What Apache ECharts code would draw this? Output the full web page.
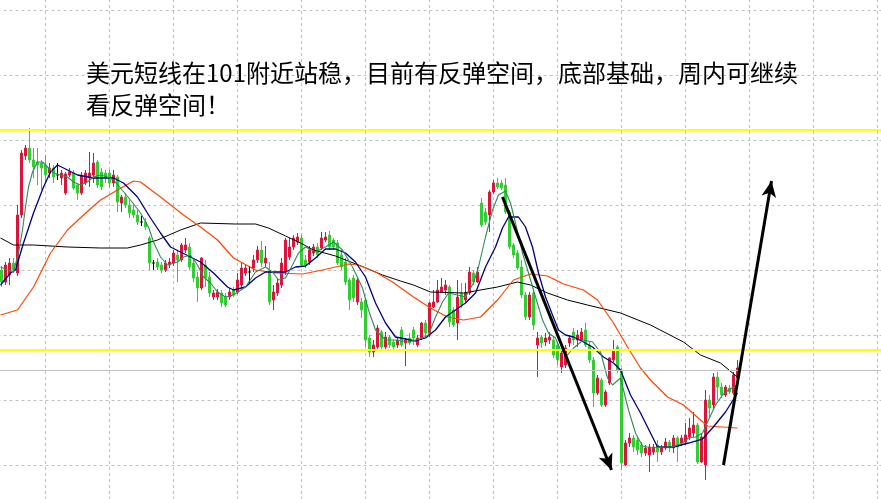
<!DOCTYPE html>
<html><head><meta charset="utf-8">
<script src="https://cdn.jsdelivr.net/npm/echarts@6/dist/echarts.min.js"></script>
<style>html,body{margin:0;padding:0;background:#fff}#c{width:881px;height:499px}</style>
</head><body><div id="c"></div>
<script>
// OHLC bars: [open, close, low, high]
const candles = [
[101.400,101.376,101.366,101.408],[101.376,101.410,101.370,101.416],[101.390,101.414,101.370,101.424],[101.414,101.400,101.394,101.424],
[101.394,101.510,101.388,101.530],[101.510,101.634,101.504,101.640],[101.628,101.644,101.620,101.650],[101.644,101.620,101.614,101.684],
[101.620,101.606,101.584,101.644],[101.616,101.610,101.570,101.644],[101.614,101.604,101.560,101.620],[101.610,101.590,101.576,101.630],
[101.594,101.604,101.584,101.614],[101.604,101.586,101.574,101.610],[101.590,101.590,101.580,101.614],[101.584,101.594,101.570,101.600],
[101.554,101.592,101.550,101.596],[101.590,101.596,101.586,101.604],[101.594,101.564,101.560,101.600],[101.570,101.554,101.540,101.574],
[101.554,101.590,101.550,101.596],[101.574,101.594,101.570,101.600],[101.584,101.594,101.566,101.636],[101.590,101.614,101.574,101.634],
[101.616,101.570,101.564,101.620],[101.596,101.566,101.560,101.604],[101.594,101.584,101.574,101.600],[101.594,101.574,101.564,101.600],
[101.574,101.590,101.566,101.600],[101.586,101.536,101.516,101.590],[101.534,101.546,101.516,101.550],[101.546,101.530,101.524,101.554],
[101.530,101.514,101.504,101.540],[101.520,101.510,101.504,101.530],[101.510,101.496,101.490,101.520],[101.496,101.496,101.488,101.508],
[101.496,101.486,101.480,101.504],[101.464,101.414,101.400,101.468],[101.414,101.414,101.400,101.420],[101.416,101.406,101.400,101.424],
[101.410,101.400,101.394,101.416],[101.400,101.414,101.396,101.420],[101.410,101.416,101.404,101.424],[101.414,101.434,101.408,101.440],
[101.430,101.420,101.376,101.440],[101.420,101.450,101.416,101.454],[101.440,101.450,101.434,101.464],[101.446,101.406,101.400,101.454],
[101.414,101.384,101.376,101.420],[101.386,101.364,101.336,101.396],[101.364,101.424,101.360,101.426],[101.410,101.384,101.366,101.420],
[101.386,101.354,101.346,101.396],[101.346,101.354,101.340,101.360],[101.346,101.356,101.340,101.362],[101.354,101.334,101.326,101.360],
[101.346,101.330,101.326,101.354],[101.346,101.356,101.340,101.364],[101.360,101.350,101.346,101.366],[101.356,101.380,101.352,101.394],
[101.370,101.404,101.364,101.416],[101.394,101.404,101.388,101.410],[101.396,101.396,101.374,101.408],[101.404,101.420,101.396,101.430],
[101.420,101.440,101.414,101.448],[101.440,101.414,101.406,101.458],[101.414,101.424,101.406,101.448],[101.396,101.336,101.330,101.416],
[101.340,101.356,101.320,101.370],[101.354,101.374,101.348,101.384],[101.370,101.414,101.364,101.424],[101.396,101.460,101.390,101.464],
[101.426,101.446,101.420,101.464],[101.446,101.464,101.440,101.470],[101.456,101.466,101.450,101.474],[101.464,101.410,101.406,101.470],
[101.420,101.410,101.404,101.430],[101.416,101.440,101.410,101.448],[101.434,101.446,101.428,101.452],[101.446,101.430,101.424,101.454],
[101.444,101.464,101.440,101.476],[101.460,101.466,101.456,101.476],[101.470,101.446,101.440,101.478],[101.460,101.446,101.440,101.464],
[101.454,101.414,101.410,101.460],[101.430,101.406,101.400,101.440],[101.416,101.376,101.370,101.424],[101.380,101.340,101.320,101.384],
[101.384,101.344,101.336,101.390],[101.336,101.380,101.330,101.386],[101.336,101.320,101.304,101.344],[101.340,101.260,101.246,101.344],
[101.264,101.236,101.226,101.270],[101.236,101.250,101.226,101.260],[101.246,101.284,101.240,101.290],[101.276,101.246,101.240,101.280],
[101.246,101.266,101.240,101.276],[101.266,101.250,101.244,101.270],[101.256,101.246,101.240,101.260],[101.250,101.260,101.244,101.264],
[101.280,101.250,101.246,101.286],[101.254,101.260,101.208,101.264],[101.264,101.254,101.250,101.274],[101.280,101.264,101.250,101.286],
[101.250,101.264,101.246,101.270],[101.264,101.294,101.260,101.296],[101.294,101.274,101.266,101.300],[101.274,101.334,101.266,101.336],
[101.326,101.336,101.324,101.360],[101.336,101.360,101.334,101.380],[101.356,101.366,101.354,101.384],[101.360,101.370,101.350,101.380],
[101.366,101.296,101.286,101.370],[101.320,101.290,101.286,101.326],[101.294,101.346,101.260,101.380],[101.354,101.330,101.324,101.374],
[101.340,101.354,101.334,101.374],[101.354,101.396,101.350,101.406],[101.394,101.376,101.370,101.400],[101.376,101.396,101.374,101.406],
[101.534,101.490,101.486,101.544],[101.516,101.496,101.490,101.524],[101.510,101.556,101.476,101.560],[101.556,101.574,101.552,101.580],
[101.574,101.566,101.562,101.584],[101.574,101.564,101.560,101.580],[101.570,101.516,101.512,101.584],[101.516,101.446,101.442,101.520],
[101.450,101.430,101.424,101.454],[101.434,101.404,101.400,101.440],[101.406,101.350,101.344,101.420],[101.350,101.306,101.300,101.356],
[101.306,101.350,101.300,101.356],[101.354,101.290,101.280,101.360],[101.250,101.264,101.186,101.276],[101.266,101.254,101.244,101.270],
[101.256,101.264,101.248,101.274],[101.260,101.266,101.252,101.276],[101.260,101.230,101.224,101.268],[101.250,101.220,101.210,101.256],
[101.206,101.234,101.194,101.240],[101.210,101.244,101.204,101.250],[101.254,101.264,101.246,101.270],[101.276,101.260,101.250,101.284],
[101.260,101.270,101.246,101.280],[101.260,101.276,101.256,101.284],[101.280,101.250,101.246,101.294],[101.250,101.220,101.214,101.256],
[101.220,101.154,101.126,101.226],[101.154,101.184,101.150,101.190],[101.180,101.130,101.126,101.184],[101.130,101.156,101.126,101.160],
[101.174,101.224,101.170,101.226],[101.220,101.240,101.216,101.260],[101.246,101.200,101.194,101.250],[101.200,101.014,101.000,101.204],
[101.010,101.054,101.008,101.060],[101.054,101.064,101.046,101.074],[101.064,101.046,101.036,101.070],[101.060,101.040,101.030,101.066],
[101.050,101.034,101.026,101.056],[101.034,101.044,101.028,101.050],[101.030,101.046,100.996,101.052],[101.036,101.046,101.030,101.052],
[101.050,101.036,101.016,101.060],[101.036,101.044,101.030,101.050],[101.044,101.056,101.040,101.064],[101.056,101.044,101.036,101.060],
[101.044,101.064,101.034,101.070],[101.064,101.046,101.016,101.068],[101.054,101.064,101.048,101.070],[101.056,101.070,101.050,101.094],
[101.066,101.084,101.060,101.104],[101.074,101.090,101.066,101.116],[101.090,101.016,101.012,101.094],[101.016,101.066,101.014,101.074],
[101.010,101.140,100.980,101.160],[101.140,101.124,101.104,101.150],[101.130,101.186,101.120,101.194],[101.186,101.166,101.140,101.196],
[101.166,101.150,101.144,101.174],[101.150,101.166,101.146,101.170],[101.164,101.156,101.152,101.170],[101.154,101.190,101.150,101.196],
[101.184,101.204,101.180,101.220]
];

// moving averages: [bar index, price]
const maFast = [
[-0.25,101.406],[1.5,101.400],[3,101.396],[4.25,101.434],[5.25,101.480],[6,101.526],[6.75,101.566],[7.75,101.596],[9,101.616],[10.25,101.616],
[11.5,101.606],[13,101.594],[14.75,101.590],[16.5,101.586],[18,101.576],[19.75,101.570],[21.5,101.576],[23,101.586],[24.75,101.590],[26.5,101.586],
[28,101.580],[29.75,101.564],[32.25,101.540],[34.75,101.514],[36.75,101.486],[38,101.456],[39.75,101.426],[41.5,101.410],[44,101.416],[45.5,101.426],
[47.25,101.430],[49,101.410],[50.5,101.386],[52.25,101.374],[54,101.356],[56,101.346],[58,101.350],[61,101.366],[63.5,101.396],[66,101.406],
[67.75,101.396],[69.25,101.380],[71,101.384],[72.75,101.410],[74.25,101.434],[76,101.446],[78.5,101.436],[81,101.446],[83,101.456],[85.25,101.440],
[87.75,101.406],[90.25,101.364],[91.75,101.320],[93.5,101.280],[96,101.260],[98.5,101.260],[101.75,101.256],[105.25,101.264],[106.75,101.270],[108.5,101.306],
[110.25,101.336],[111.75,101.354],[114,101.350],[116,101.346],[118,101.374],[119.25,101.406],[121,101.466],[122.75,101.520],[124.25,101.550],[126,101.558],
[127.25,101.534],[128.5,101.494],[130.25,101.434],[131.75,101.394],[133.5,101.346],[135.25,101.300],[136.75,101.274],[138.5,101.264],[139.75,101.240],[141.5,101.230],
[143,101.244],[145.5,101.260],[147.75,101.256],[149.75,101.236],[151.5,101.184],[152.75,101.170],[154.75,101.184],[156.75,101.120],[158.5,101.074],[160.25,101.048],
[162.75,101.044],[165.25,101.046],[167.75,101.046],[170.25,101.054],[171.75,101.064],[173.5,101.066],[175.25,101.074],[176.75,101.100],[178.5,101.130],[180.25,101.150],
[181.75,101.160],[184,101.170]
];
const maMid = [
[-0.25,101.370],[2.25,101.394],[3.5,101.400],[5.5,101.454],[8,101.514],[10.5,101.566],[12.25,101.596],[14,101.610],[16.5,101.600],[19,101.590],
[23,101.584],[28,101.584],[30.5,101.574],[34,101.546],[37.25,101.504],[39.75,101.474],[42.25,101.446],[44.75,101.436],[49.75,101.416],[53,101.394],
[56.5,101.366],[58,101.360],[61,101.366],[63.5,101.384],[66,101.396],[71,101.396],[73.5,101.406],[76,101.408],[78.5,101.424],[81,101.442],
[83.5,101.442],[86,101.434],[88.5,101.416],[91,101.386],[93.5,101.334],[96,101.294],[98.5,101.266],[103.5,101.258],[106,101.264],[108.5,101.280],
[111,101.306],[113.5,101.320],[116,101.334],[118.5,101.354],[121,101.406],[123.5,101.446],[125.25,101.484],[126.75,101.506],[129.25,101.506],[131,101.486],
[132.75,101.446],[134.25,101.394],[136,101.346],[137.75,101.310],[139.25,101.280],[141,101.270],[143,101.266],[145.5,101.256],[147.75,101.246],[150.5,101.226],
[153,101.214],[154.75,101.200],[157.25,101.150],[159.75,101.114],[161.5,101.086],[164,101.046],[168,101.046],[171.75,101.054],[175.25,101.062],[177.75,101.084],
[181,101.116],[184,101.154]
];
const maSlow = [
[-0.25,101.310],[4,101.320],[8,101.366],[12.25,101.434],[16.5,101.480],[20.5,101.510],[24.75,101.540],[29,101.560],[33,101.578],[34.75,101.576],
[39.75,101.546],[45.5,101.510],[49.75,101.486],[54,101.460],[58,101.424],[63.5,101.400],[68.5,101.394],[75.25,101.392],[80.25,101.400],[86.75,101.412],
[89.25,101.410],[93.5,101.396],[97.75,101.376],[103,101.346],[107.25,101.324],[111.5,101.306],[115.5,101.300],[119.75,101.306],[124,101.340],[128,101.380],
[132.25,101.392],[136.5,101.388],[140.5,101.372],[145.5,101.360],[149,101.340],[153,101.294],[156.5,101.246],[159.75,101.204],[162.25,101.180],[166.5,101.146],
[170.5,101.130],[174.75,101.100],[176.5,101.088],[184,101.084]
];
const maLong = [
[-0.25,101.464],[3,101.450],[8,101.450],[16.5,101.446],[24.75,101.444],[31.5,101.444],[34.75,101.450],[39,101.460],[44.75,101.480],[49.75,101.494],
[58.5,101.492],[63.5,101.492],[66.75,101.484],[71,101.468],[74.75,101.454],[78,101.440],[83.5,101.428],[90.5,101.406],[95.25,101.390],[99.75,101.378],
[103,101.370],[107.25,101.356],[115.5,101.354],[124,101.366],[129,101.376],[132.25,101.370],[136.5,101.354],[141.5,101.340],[146.5,101.330],[154.75,101.314],
[162.25,101.290],[170.5,101.256],[174.75,101.230],[179.75,101.214],[184,101.186]
];

const yellowLevels = [101.684, 101.240];
const bidLevels = [101.202];
const arrowPaths = [
  [[125.25, 101.546], [152.5, 101.000]],
  [[180.5, 101.010], [192.5, 101.578]]
];
const noteLines = ['美元短线在101附近站稳，目前有反弹空间，底部基础，周内可继续', '看反弹空间！'];

const slots = 222;
const barLabels = Array.from({length: slots}, (_, j) => 'B' + j);
const candleData = candles.map((c, i) => [i + 1, c[0], c[1], c[2], c[3]]);

const chart = echarts.init(document.getElementById('c'), null, {renderer: 'canvas'});
chart.setOption({
  animation: false,
  backgroundColor: '#ffffff',
  title: {
    text: noteLines.join('\n'),
    left: 86, top: 57, padding: 0,
    textStyle: {fontFamily: '"Noto Sans CJK SC", sans-serif', fontSize: 24, fontWeight: 'normal', color: '#000', lineHeight: 32}
  },
  grid: {left: -2.5, right: -0.5, top: -55, bottom: -31, containLabel: false, outerBoundsMode: 'none'},
  xAxis: [
    {type: 'category', data: barLabels, boundaryGap: false,
     axisLine: {show: false}, axisTick: {show: false}, axisLabel: {show: false},
     splitLine: {show: true, interval: (j) => j % 16 === 12, lineStyle: {color: '#c0c0c0', type: [3, 3], width: 1}}},
    {type: 'value', min: -1, max: slots - 2, show: false, splitLine: {show: false}}
  ],
  yAxis: {
    type: 'value', min: 100.88, max: 102.05, interval: 0.13, scale: true,
    axisLine: {show: false}, axisTick: {show: false}, axisLabel: {show: false},
    splitLine: {show: true, lineStyle: {color: '#c0c0c0', type: [3, 3], width: 1}}
  },
  series: [
    {type: 'line', xAxisIndex: 1, data: [], z: 1, silent: true,
     markLine: {silent: true, symbol: ['none', 'none'], label: {show: false}, animation: false,
       lineStyle: {color: '#c0c0c0', width: 1, type: 'solid'},
       data: bidLevels.map(v => ({yAxis: v}))}},
    {type: 'candlestick', xAxisIndex: 0, data: candleData, encode: {x: 0, y: [1, 2, 3, 4]},
     barWidth: 2, z: 2, silent: true,
     itemStyle: {color: '#dc143c', color0: '#32cd32', borderColor: '#dc143c', borderColor0: '#32cd32', borderColorDoji: '#000000', borderWidth: 1}},
    {type: 'line', xAxisIndex: 1, data: maLong, showSymbol: false, z: 3, silent: true, lineStyle: {color: '#000000', width: 1}},
    {type: 'line', xAxisIndex: 1, data: maSlow, showSymbol: false, z: 3, silent: true, lineStyle: {color: '#ff4500', width: 1.2}},
    {type: 'line', xAxisIndex: 1, data: maMid, showSymbol: false, z: 3, silent: true, lineStyle: {color: '#000080', width: 1.3}},
    {type: 'line', xAxisIndex: 1, data: maFast, showSymbol: false, z: 3, silent: true, lineStyle: {color: '#2e8b57', width: 1.1}},
    {type: 'line', xAxisIndex: 1, data: [], z: 4, silent: true,
     markLine: {silent: true, symbol: ['none', 'none'], label: {show: false}, animation: false,
       lineStyle: {color: '#ffff00', width: 2, type: 'solid'},
       data: yellowLevels.map(v => ({yAxis: v}))}},
    {type: 'line', xAxisIndex: 1, data: [], z: 5, silent: true,
     markLine: {silent: true, symbol: ['none', 'arrow'], symbolSize: [11, 16], label: {show: false}, animation: false,
       lineStyle: {color: '#000000', width: 3, type: 'solid'},
       data: arrowPaths.map(p => [{coord: p[0]}, {coord: p[1]}])}}
  ]
});
</script>
</body></html>
